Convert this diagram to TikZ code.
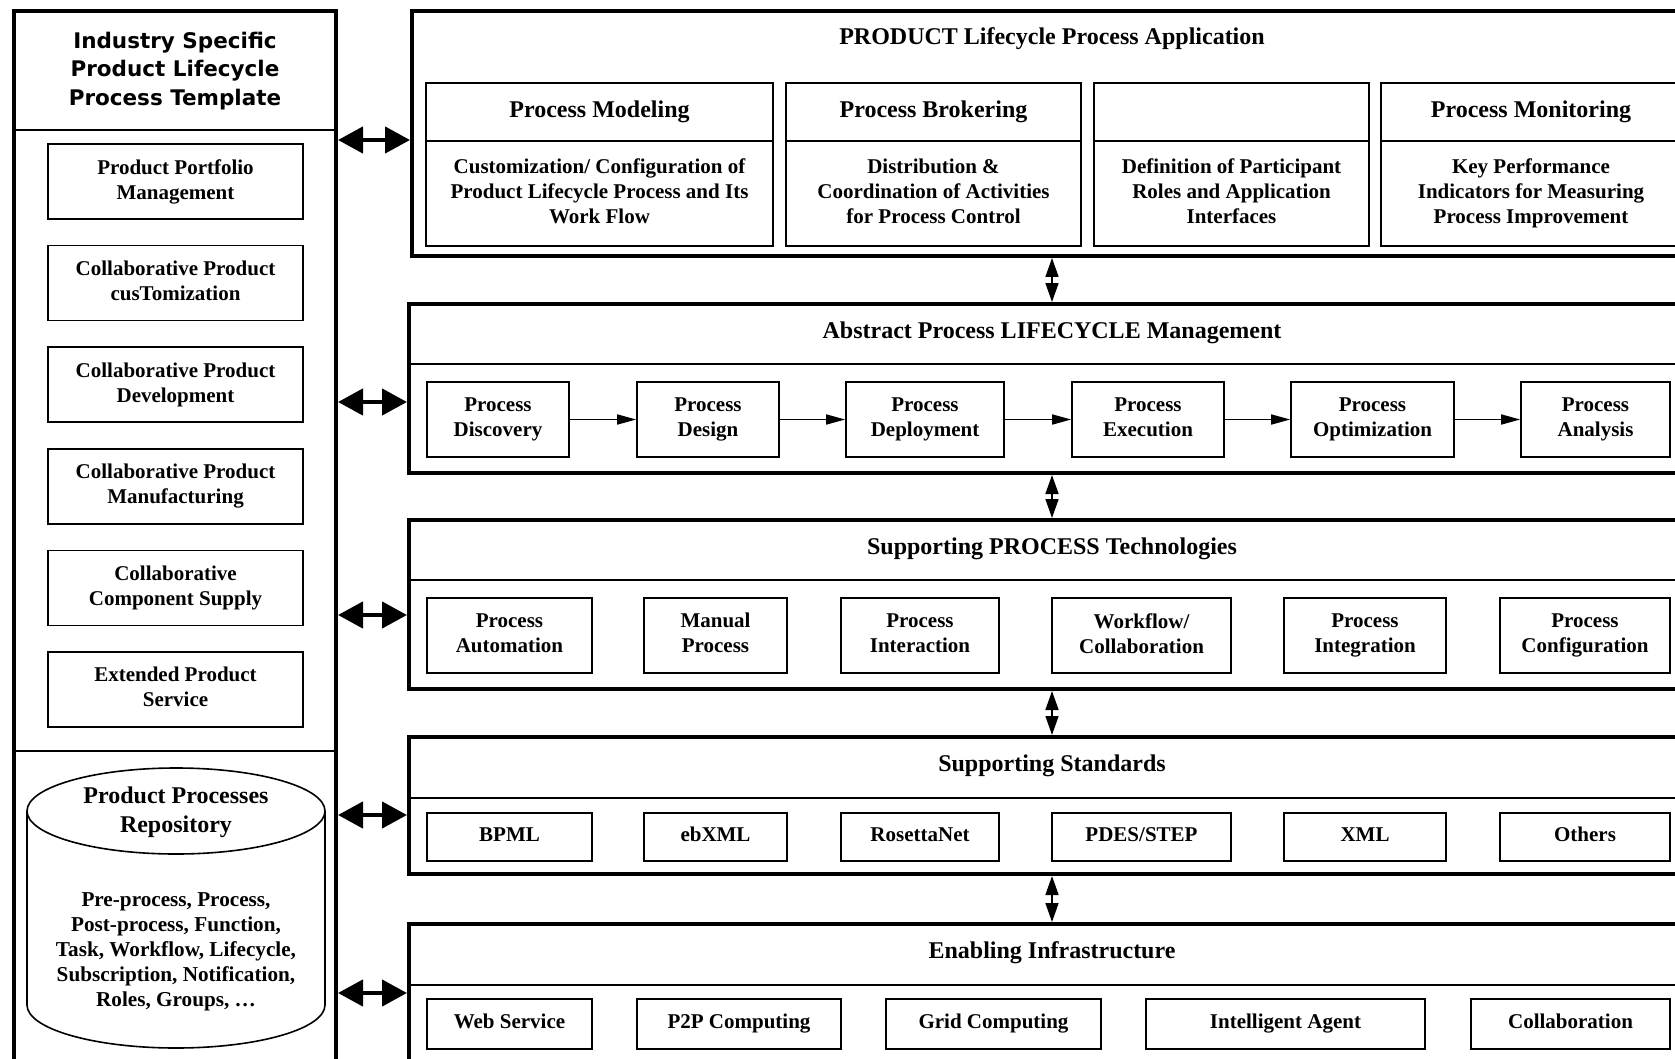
\documentclass[tikz,border=0pt]{standalone}
\usepackage{fontspec}
\setmainfont{Liberation Serif}
\newfontfamily\verdfont{DejaVu Sans}
\usepackage{tikz}
\usetikzlibrary{arrows.meta, calc}
\tikzset{
  evenlines/.style={execute at begin node={\vphantom{Ag}}, execute at end node={\vphantom{gy}}},
  layer/.style={rectangle, draw=black, line width=2pt},
  tmplbox/.style={rectangle, draw=black, line width=2pt},
  itembox/.style={rectangle, draw=black, line width=0.8pt, align=center, inner sep=1pt, evenlines, font=\bfseries\fontsize{10.5}{12.5}\selectfont},
  headbox/.style={itembox, font=\bfseries\fontsize{12}{14}\selectfont},
  plaintxt/.style={align=center, inner sep=1pt, evenlines, font=\bfseries\fontsize{10.6}{12.5}\selectfont},
  ttl/.style={align=center, inner sep=1pt, evenlines, font=\bfseries\fontsize{12}{14.5}\selectfont},
  sz/.style 2 args={minimum width=#1*0.5pt, minimum height=#2*0.5pt},
  sep/.style={line width=0.9pt},
  bigarrow/.style={line width=2.2pt, {Triangle[length=12.5pt,width=13pt]}-{Triangle[length=12.5pt,width=13pt]}},
  vlink/.style={line width=0.8pt, {Triangle[length=9.5pt,width=6.5pt]}-{Triangle[length=9.5pt,width=6.5pt]}},
  flow/.style={line width=0.8pt, -{Triangle[length=9.5pt,width=5pt]}}
}
\begin{document}
\begin{tikzpicture}[x=0.5pt, y=-0.5pt]
    % Marco de la figura (recortado como el original)
    \path[use as bounding box] (0,0) rectangle (1675,1059);
    \clip (0,0) rectangle (1675,1059);

    % Panel izquierdo: plantilla del sector
    \node[tmplbox, sz={322}{1089}] (tmpl) at (175,555.5) {};
    \draw[sep] (tmpl.west |- 0,130) -- (tmpl.east |- 0,130);
    \draw[sep] (tmpl.west |- 0,751) -- (tmpl.east |- 0,751);
    \node[align=center, font=\verdfont\bfseries\fontsize{10.75}{14.4}\selectfont] (tmplttl) at (175,71) {Industry Specific\\Product Lifecycle\\Process Template};

    % Cajas de la plantilla (de arriba hacia abajo)
    \foreach \txt [count=\i] in {{Product Portfolio\\Management}, {Collaborative Product\\cusTomization}, {Collaborative Product\\Development}, {Collaborative Product\\Manufacturing}, {Collaborative\\Component Supply}, {Extended Product\\Service}} {
        \pgfmathsetmacro{\yc}{181.5+(\i-1)*101.6}
        \node[itembox, sz={255}{75}] (tbox\i) at (175.5,\yc) {\txt};
    }

    % Repositorio en forma de cilindro
    \draw[line width=0.8pt] (176,811) ellipse [x radius=149, y radius=43];
    \draw[line width=0.8pt] (27,811) -- (27,1005) arc[start angle=180, end angle=0, x radius=149, y radius=43] -- (325,811);
    \node[ttl] (repo) at (176,812) {Product Processes\\Repository};
    \node[plaintxt] (repoitems) at (176,952) {Pre-process, Process,\\Post-process, Function,\\Task, Workflow, Lifecycle,\\Subscription, Notification,\\Roles, Groups, …};

    % Capas de la derecha
    \node[layer, sz={1288}{245}] (lay1) at (1056,133.5) {};
    \node[layer, sz={1291}{169}] (lay2) at (1054.5,388.5) {};
    \node[layer, sz={1291}{169}] (lay3) at (1054.5,604.5) {};
    \node[layer, sz={1291}{137}] (lay4) at (1054.5,805.5) {};
    \node[layer, sz={1291}{176}] (lay5) at (1054.5,1012) {};
    \foreach \k/\y in {2/364, 3/580, 4/798, 5/985}
        \draw[sep] (lay\k.west |- 0,\y) -- (lay\k.east |- 0,\y);

    % Titulos de las capas
    \node[ttl] (ttl1) at (1052,39) {PRODUCT Lifecycle Process Application};
    \node[ttl] (ttl2) at (1052,333) {Abstract Process LIFECYCLE Management};
    \node[ttl] (ttl3) at (1052,549) {Supporting PROCESS Technologies};
    \node[ttl] (ttl4) at (1052,766) {Supporting Standards};
    \node[ttl] (ttl5) at (1052,953) {Enabling Infrastructure};

    % Capa 1: columnas con cabecera y descripcion
    \node[headbox, sz={347}{58}] (hdr1) at (599.5,112) {Process Modeling};
    \node[headbox, sz={295}{58}] (hdr2) at (933.5,112) {Process Brokering};
    \node[headbox, sz={275}{58}] (hdr3) at (1231.5,112) {};
    \node[headbox, sz={300}{58}] (hdr4) at (1531,112) {Process Monitoring};
    \node[itembox, sz={347}{105}] (app1) at (599.5,193.5) {Customization/ Configuration of\\Product Lifecycle Process and Its\\Work Flow};
    \node[itembox, sz={295}{105}] (app2) at (933.5,193.5) {Distribution \&\\Coordination of Activities\\for Process Control};
    \node[itembox, sz={275}{105}] (app3) at (1231.5,193.5) {Definition of Participant\\Roles and Application\\Interfaces};
    \node[itembox, sz={300}{105}] (app4) at (1531,193.5) {Key Performance\\Indicators for Measuring\\Process Improvement};

    % Capa 2: ciclo de vida del proceso
    \foreach \cx/\w/\txt [count=\i] in {498/142/{Process\\Discovery}, 708/142/{Process\\Design}, 925/158/{Process\\Deployment}, 1148/152/{Process\\Execution}, 1372.5/163/{Process\\Optimization}, 1595.5/149/{Process\\Analysis}}
        \node[itembox, sz={\w}{75}] (abs\i) at (\cx,419.5) {\txt};
    \foreach \i [count=\j from 2] in {1,...,5}
        \draw[flow] (abs\i) -- (abs\j);

    % Capa 3: tecnologias
    \foreach \cx/\w/\txt [count=\i] in {509.5/165/{Process\\Automation}, 715.5/143/{Manual\\Process}, 920/158/{Process\\Interaction}, 1141.5/179/{Workflow\slash\\Collaboration}, 1365/162/{Process\\Integration}, 1585/170/{Process\\Configuration}}
        \node[itembox, sz={\w}{75}] (tech\i) at (\cx,635.5) {\txt};

    % Capa 4: estandares
    \foreach \cx/\w/\txt [count=\i] in {509.5/165/BPML, 715.5/143/ebXML, 920/158/RosettaNet, 1141.5/179/{PDES\slash STEP}, 1365/162/XML, 1585/170/Others}
        \node[itembox, sz={\w}{48}] (std\i) at (\cx,837) {\txt};

    % Capa 5: infraestructura
    \foreach \cx/\w/\txt [count=\i] in {509.5/165/Web Service, 739/204/P2P Computing, 993.5/215/Grid Computing, 1285.5/279/Intelligent Agent, 1570.5/199/Collaboration}
        \node[itembox, sz={\w}{50}] (infra\i) at (\cx,1024) {\txt};

    % Flechas entre capas
    \foreach \a/\b in {1/2, 2/3, 3/4, 4/5}
        \draw[vlink] (ttl\b |- lay\a.south) -- (ttl\b |- lay\b.north);

    % Flechas del panel izquierdo hacia cada capa
    \foreach \y [count=\k] in {140, 402, 615, 815, 993}
        \draw[bigarrow] (tmpl.east |- 0,\y) -- (lay\k.west |- 0,\y);
\end{tikzpicture}
\end{document}
